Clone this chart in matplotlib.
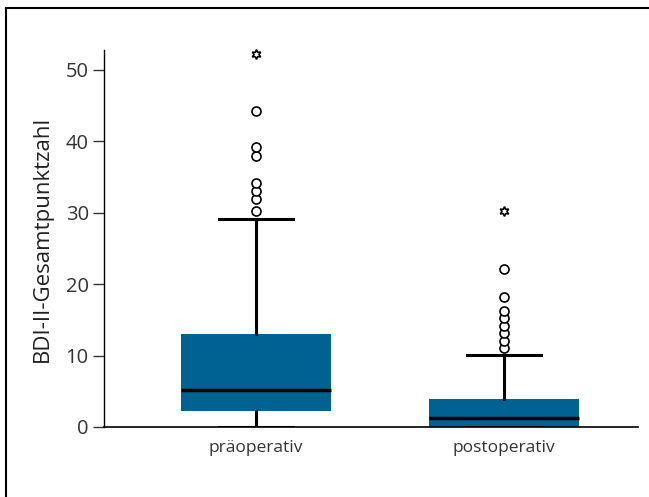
import matplotlib.pyplot as plt
from matplotlib.lines import Line2D

# Daten
gruppen = ['präoperativ', 'postoperativ']
q1 = [2.2, 0.0]
median = [5.2, 1.2]
q3 = [13.0, 3.9]
whisker_lo = [0.0, 0.0]
whisker_hi = [29.1, 10.1]
ausreisser = [[30.2, 32.0, 33.1, 34.2, 38.0, 39.2, 44.2],
              [11.1, 12.1, 13.1, 14.1, 15.2, 16.2, 18.2, 22.1]]
extremwerte = [[52.2], [30.2]]

plt.rcParams['font.family'] = ['Open Sans', 'DejaVu Sans']

fig = plt.figure(figsize=(6.49, 4.97), dpi=100)
ax = fig.add_axes([104/649, (497-427)/497, (638-104)/649, (427-50)/497])

stats = []
for i in range(2):
    stats.append(dict(label=gruppen[i], q1=q1[i], med=median[i], q3=q3[i],
                      whislo=whisker_lo[i], whishi=whisker_hi[i], fliers=[]))

ax.bxp(stats, positions=[1, 2], widths=0.605, patch_artist=True, showfliers=False,
       boxprops=dict(facecolor='#006291', edgecolor='#006291', linewidth=0),
       medianprops=dict(color='black', linewidth=2.5),
       whiskerprops=dict(color='black', linewidth=2.2),
       capprops=dict(color='black', linewidth=2.2),
       capwidths=0.3)

for i in range(2):
    ax.plot([i + 1] * len(ausreisser[i]), ausreisser[i], 'o', ms=6.5,
            mfc='white', mec='black', mew=1.2, clip_on=False, zorder=5)
    ax.plot([i + 1] * len(extremwerte[i]), extremwerte[i], marker=(6, 1, 0), ls='none',
            ms=7, mfc='white', mec='black', mew=1.2, clip_on=False, zorder=5)

ax.set_xlim(0.387, 2.54)
ax.set_ylim(0, 52.8)
ax.set_yticks([0, 10, 20, 30, 40, 50])
ax.tick_params(axis='y', labelsize=14.5, length=8, width=1, colors='#333333', pad=3)
ax.tick_params(axis='x', labelsize=12.5, length=0, pad=9, colors='#333333')
ax.set_xticks([1, 2])
ax.set_xticklabels(gruppen)
ax.set_ylabel('BDI-II-Gesamtpunktzahl', fontsize=16, color='#222222', labelpad=9)
for s in ['top', 'right']:
    ax.spines[s].set_visible(False)
ax.spines['left'].set_linewidth(1)
ax.spines['bottom'].set_linewidth(1.2)

# Rahmen links und oben
fig.add_artist(Line2D([6/649, 1], [1 - 8/497, 1 - 8/497], color='black', lw=1.5))
fig.add_artist(Line2D([6/649, 6/649], [0, 1 - 8/497], color='black', lw=1.5))

plt.savefig('out.png', dpi=100)
